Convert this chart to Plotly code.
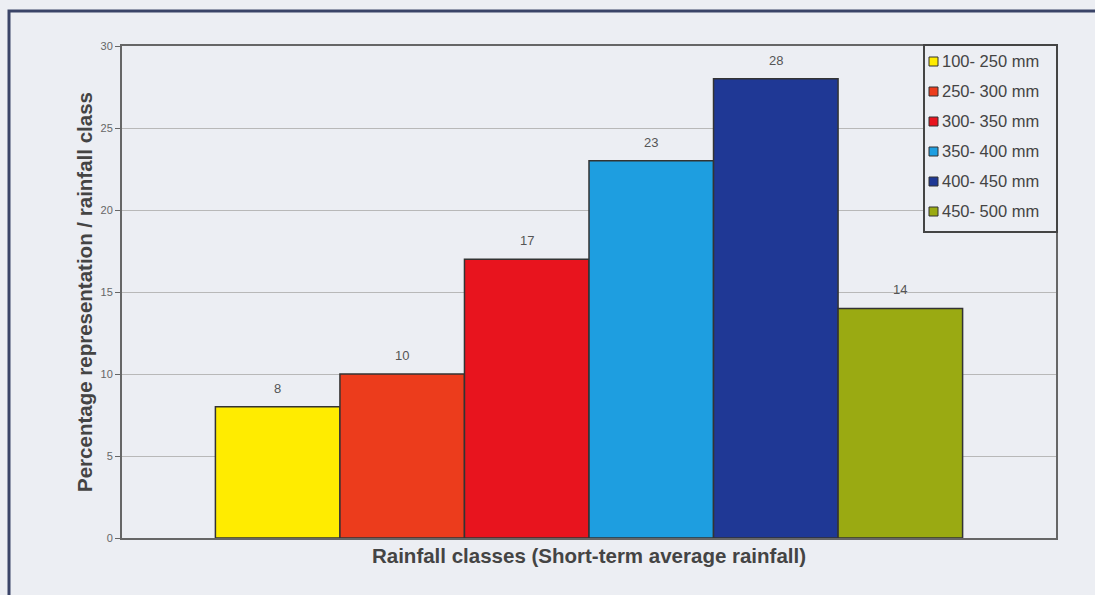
import plotly.graph_objects as go

classes = ["100- 250 mm", "250- 300 mm", "300- 350 mm", "350- 400 mm", "400- 450 mm", "450- 500 mm"]
values = [8, 10, 17, 23, 28, 14]
colors = ["#ffec00", "#ec3c1c", "#e8141e", "#1e9ee0", "#1f3895", "#9aaa12"]
positions = [0, 1, 2, 3, 4, 5]
y_ticks = [0, 5, 10, 15, 20, 25, 30]

bg = "#eceef3"
L, R, T, B = 122, 1056, 46, 538
W, H = R - L, B - T
FONT = "Liberation Sans, Arial"


def px(x):
    return (x - L) / W


def py(y):
    return (B - y) / H


fig = go.Figure()
for name, v, c, p in zip(classes, values, colors, positions):
    fig.add_trace(go.Bar(
        x=[p], y=[v], name=name, width=1,
        marker=dict(color=c, line=dict(color="#333333", width=1.5)),
        showlegend=False,
    ))
    fig.add_annotation(
        x=p, y=v, xref="x", yref="y", text=str(v), showarrow=False,
        yanchor="bottom", yshift=9,
        font=dict(size=13, color="#555555", family=FONT),
    )

shapes = [dict(
    type="rect", xref="paper", yref="paper",
    x0=px(9), x1=px(1120), y0=py(620), y1=py(11),
    line=dict(color="#3a4468", width=3), fillcolor="rgba(0,0,0,0)",
    layer="below",
)]

# manual legend
shapes.append(dict(
    type="rect", xref="paper", yref="paper",
    x0=px(924), x1=px(1057), y0=py(232), y1=py(45),
    line=dict(color="#444444", width=2), fillcolor=bg, layer="above",
))
for i, (name, c) in enumerate(zip(classes, colors)):
    yc = 61 + 30 * i
    shapes.append(dict(
        type="rect", xref="paper", yref="paper",
        x0=px(929), x1=px(938), y0=py(yc + 5), y1=py(yc - 4),
        line=dict(color="#333333", width=1), fillcolor=c, layer="above",
    ))
    fig.add_annotation(
        x=px(940), y=py(yc), xref="paper", yref="paper", text=name,
        showarrow=False, xanchor="left", yanchor="middle",
        font=dict(size=16.5, color="#444444", family=FONT),
    )

fig.update_layout(
    width=1095, height=595,
    margin=dict(l=L, r=1095 - R, t=T, b=595 - B),
    paper_bgcolor=bg, plot_bgcolor=bg,
    barmode="overlay",
    showlegend=False,
    font=dict(family=FONT, color="#444444"),
    xaxis=dict(
        range=[-1.25, 6.25], showticklabels=False, ticks="",
        showgrid=False, zeroline=False,
        showline=True, linecolor="#666666", linewidth=2, mirror=True,
        title=dict(text="<b>Rainfall classes (Short-term average rainfall)</b>",
                   font=dict(size=20.5, color="#444444"), standoff=10),
    ),
    yaxis=dict(
        range=[0, 30], tickvals=y_ticks, ticks="outside", ticklen=5,
        tickcolor="#666666", tickfont=dict(size=11, color="#666666"),
        showgrid=True, gridcolor="#b8b8b8", gridwidth=1, zeroline=False,
        showline=True, linecolor="#666666", linewidth=2, mirror=True,
        title=dict(text="<b>Percentage representation / rainfall class</b>",
                   font=dict(size=20.5, color="#444444"), standoff=2),
    ),
    shapes=shapes,
)

fig.write_html("out.html", config={"displayModeBar": False},
               post_script="document.body.style.margin='0';")
